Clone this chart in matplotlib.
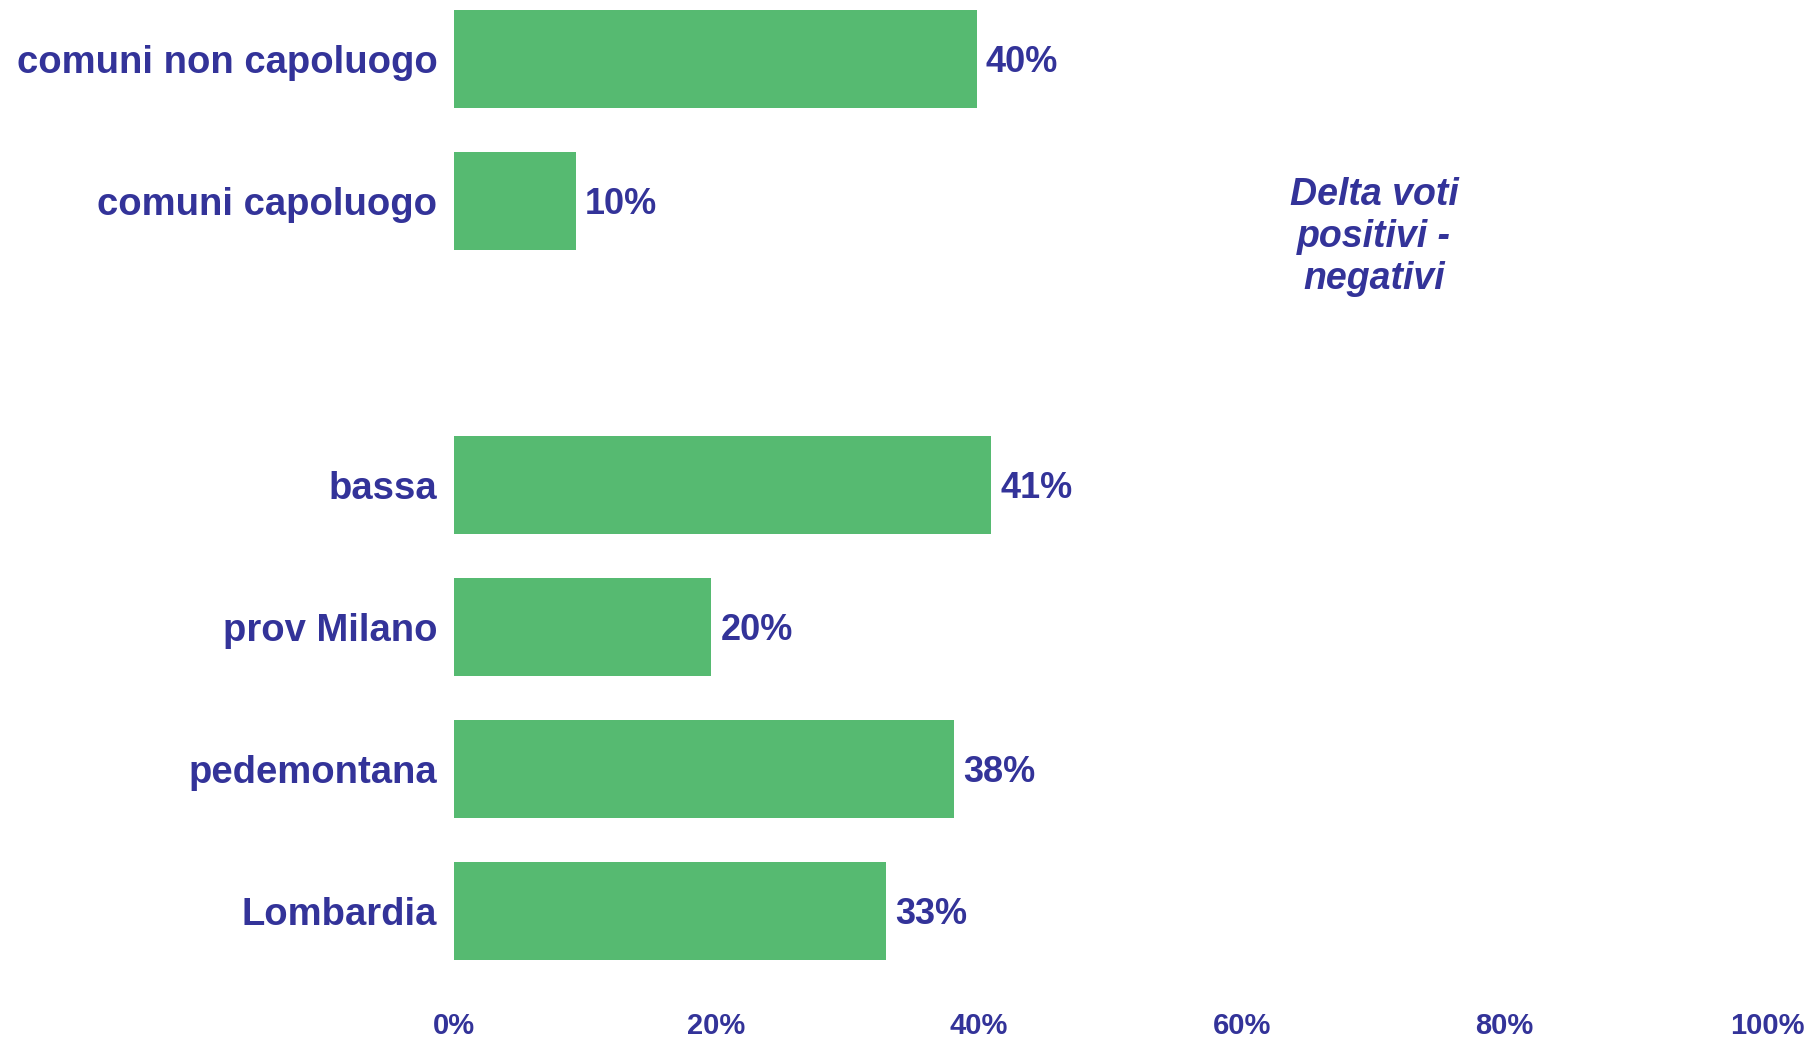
import matplotlib.pyplot as plt
from matplotlib.ticker import FuncFormatter

# categories bottom -> top, "" is the empty gap slot
categories = ['Lombardia', 'pedemontana', 'prov Milano', 'bassa', '',
              'comuni capoluogo', 'comuni non capoluogo']
values = [0.329, 0.381, 0.196, 0.409, None, 0.093, 0.398]
value_labels = ['33%', '38%', '20%', '41%', '', '10%', '40%']
x_ticks = [0, 0.2, 0.4, 0.6, 0.8, 1.0]
note_text = 'Delta voti\npositivi -\nnegativi'

green = '#56BA71'
navy = '#333399'

plt.rcParams['font.family'] = ['Liberation Sans', 'DejaVu Sans']

fig = plt.figure(figsize=(18.10, 10.38), dpi=100)
ax = fig.add_axes([0.2508, 0.0559, 0.7254, 0.9441])

pos = list(range(len(categories)))
for y, v, lab in zip(pos, values, value_labels):
    if v is None:
        continue
    ax.barh(y, v, height=0.69, color=green, edgecolor='none')
    ax.text(v + 0.007, y, lab, va='center_baseline', ha='left',
            fontsize=26, fontweight='bold', color=navy)

ax.set_xlim(0, 1.0)
ax.set_ylim(-0.486, 6.415)
ax.set_yticks(pos)
ax.set_yticklabels(categories, fontsize=27.5, fontweight='bold', color=navy)
ax.set_xticks(x_ticks)
ax.xaxis.set_major_formatter(FuncFormatter(lambda v, p: f'{v*100:.0f}%'))
for t in ax.get_xticklabels():
    t.set_fontsize(21)
    t.set_fontweight('bold')
    t.set_color(navy)
ax.tick_params(axis='both', length=0)
ax.tick_params(axis='y', pad=12)
ax.tick_params(axis='x', pad=23)
for s in ax.spines.values():
    s.set_visible(False)

fig.text(1374 / 1810, 0.7717, note_text, ha='center', va='center',
         fontsize=27, fontweight='bold', fontstyle='italic', color=navy,
         linespacing=1.2)

fig.savefig('out.png', dpi=100)
